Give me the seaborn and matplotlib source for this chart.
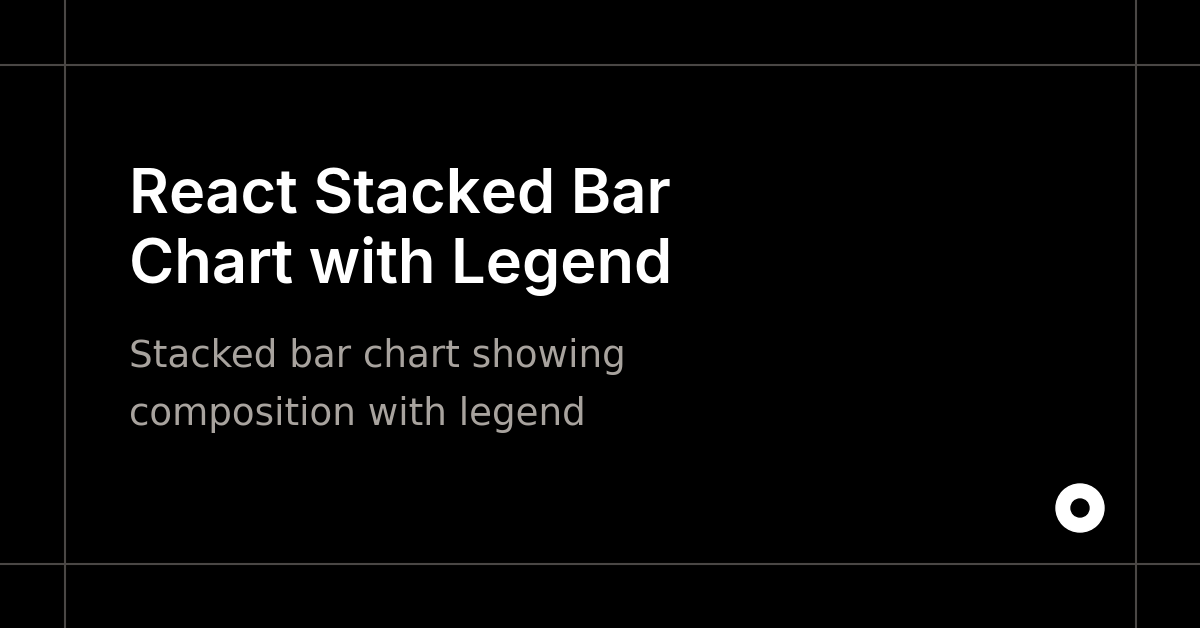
import matplotlib
matplotlib.use("Agg")
import matplotlib.pyplot as plt
import seaborn as sns
from matplotlib.patches import Circle

# Text content of the card
title_lines = ["React Stacked Bar", "Chart with Legend"]
subtitle_lines = ["Stacked bar chart showing", "composition with legend"]

BG = "#000000"
LINE = "#4a4745"
SUB = "#a8a39e"

sns.set_theme(style="dark", rc={"axes.facecolor": BG, "figure.facecolor": BG})
plt.rcParams["font.family"] = ["Inter", "DejaVu Sans"]

fig = plt.figure(figsize=(12, 6.28), dpi=100)
ax = fig.add_axes([0, 0, 1, 1])
ax.set_xlim(0, 1200)
ax.set_ylim(628, 0)
ax.axis("off")

# frame lines
for x in (64.5, 1135.5):
    ax.axvline(x, color=LINE, lw=1.5)
for y in (64.5, 563.5):
    ax.axhline(y, color=LINE, lw=1.5)

# title
for i, line in enumerate(title_lines):
    ax.text(129, 214 + i * 69, line, color="white", fontsize=44.2,
            fontweight="semibold", va="baseline", ha="left")

# subtitle, a wider face to get closer to the spaced-out original
for i, line in enumerate(subtitle_lines):
    ax.text(129, 367 + i * 58, line, color=SUB, fontsize=26.8,
            family=["DejaVu Sans"], va="baseline", ha="left")

# logo ring
ax.add_patch(Circle((1080, 508), 24, color="white"))
ax.add_patch(Circle((1080, 508), 9, color=BG))

fig.savefig("out.png", dpi=100, facecolor=BG)
